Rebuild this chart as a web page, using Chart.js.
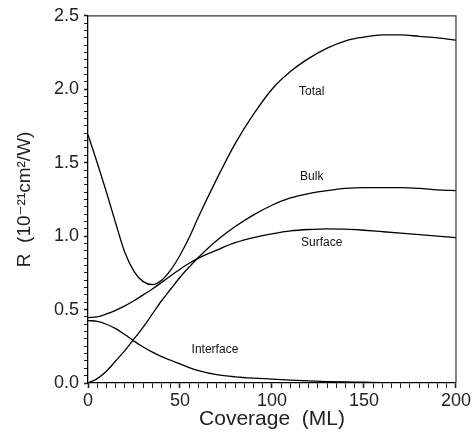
<!DOCTYPE html>
<html>
<head>
<meta charset="utf-8">
<script src="https://cdn.jsdelivr.net/npm/chart.js@4/dist/chart.umd.min.js"></script>
<style>
  html, body { margin: 0; padding: 0; background: #fff; }
  #wrap { width: 473px; height: 432px; position: relative; }
</style>
</head>
<body>
<div id="wrap"><canvas id="c" width="473" height="432"></canvas></div>
<script>
// ---- data ----
const coverage =   [0, 5, 10, 15, 20, 25, 30, 35, 40, 45, 50, 55, 60, 70, 80, 90, 100, 110, 120, 130, 140, 150, 160, 170, 180, 190, 200];
const totalR =     [1.69, 1.50, 1.30, 1.09, 0.89, 0.76, 0.69, 0.67, 0.70, 0.77, 0.87, 0.99, 1.13, 1.39, 1.63, 1.83, 2.00, 2.12, 2.21, 2.28, 2.33, 2.355, 2.37, 2.37, 2.36, 2.35, 2.335];
const bulkR =      [0.0, 0.03, 0.08, 0.15, 0.22, 0.30, 0.38, 0.47, 0.56, 0.64, 0.72, 0.79, 0.855, 0.97, 1.065, 1.145, 1.21, 1.26, 1.29, 1.31, 1.325, 1.33, 1.33, 1.33, 1.325, 1.315, 1.31];
const surfaceR =   [0.445, 0.45, 0.47, 0.495, 0.525, 0.56, 0.60, 0.64, 0.685, 0.73, 0.775, 0.815, 0.85, 0.905, 0.955, 0.99, 1.015, 1.035, 1.045, 1.05, 1.048, 1.04, 1.03, 1.02, 1.01, 1.0, 0.99];
const interfaceR = [0.425, 0.42, 0.40, 0.37, 0.33, 0.285, 0.245, 0.21, 0.18, 0.155, 0.13, 0.105, 0.085, 0.057, 0.042, 0.033, 0.027, 0.02, 0.014, 0.01, 0.007, 0.005, 0.003, 0.002, 0.001, 0.0005, 0];
const seriesNames = ["Total", "Bulk", "Surface", "Interface"];
const labelX = [121.6, 121.6, 127, 69];
const labelY = [1.98, 1.405, 0.955, 0.23];
const xTitle = "Coverage  (ML)";
const yTitle = "R  (10\u207B\u00B2\u00B9cm\u00B2/W)";

const allSeries = [totalR, bulkR, surfaceR, interfaceR];
const toPts = arr => coverage.map((x, i) => ({ x: x, y: arr[i] }));

const datasets = allSeries.map((arr, i) => ({
  label: seriesNames[i],
  data: toPts(arr),
  borderColor: '#000',
  borderWidth: 1.3,
  pointRadius: 0,
  fill: false,
  cubicInterpolationMode: 'monotone'
}));

const frameAndLabels = {
  id: 'frameAndLabels',
  afterDatasetsDraw(chart) {
    const { ctx, chartArea: a, scales } = chart;
    ctx.save();
    ctx.strokeStyle = '#333';
    ctx.lineWidth = 1.2;
    ctx.beginPath();
    ctx.moveTo(a.left, a.top);
    ctx.lineTo(a.right, a.top);
    ctx.lineTo(a.right, a.bottom);
    ctx.stroke();
    ctx.fillStyle = '#111';
    ctx.font = '12px "Liberation Sans", Arial, sans-serif';
    ctx.textAlign = 'center';
    ctx.textBaseline = 'middle';
    seriesNames.forEach((name, i) => {
      ctx.fillText(name, scales.x.getPixelForValue(labelX[i]), scales.y.getPixelForValue(labelY[i]));
    });
    ctx.restore();
  }
};

const tickFont = { family: '"Liberation Sans", Arial, sans-serif', size: 18 };

new Chart(document.getElementById('c'), {
  type: 'line',
  data: { datasets },
  plugins: [frameAndLabels],
  options: {
    responsive: false,
    animation: false,
    devicePixelRatio: 1,
    layout: { padding: { top: 14, right: 17, left: 0, bottom: 0 } },
    plugins: { legend: { display: false }, tooltip: { enabled: false } },
    scales: {
      x: {
        type: 'linear',
        min: 0, max: 200,
        afterFit(s) { s.height = 49; },
        border: { display: true, color: '#000', width: 1.3 },
        grid: {
          drawOnChartArea: false, drawTicks: true, tickLength: 5,
          tickColor: '#222',
          tickWidth: ctx => (ctx.tick && ctx.tick.value % 50 === 0) ? 1.6 : 1
        },
        ticks: {
          stepSize: 5, autoSkip: false, maxRotation: 0, padding: 2,
          color: '#222', font: tickFont,
          callback: v => (Math.abs(v % 50) < 1e-6 ? String(v) : '')
        },
        title: {
          display: true, text: xTitle, color: '#222',
          font: { family: '"Liberation Sans", Arial, sans-serif', size: 21 },
          padding: { top: 0, bottom: 0 }
        }
      },
      y: {
        type: 'linear',
        min: 0, max: 2.5,
        afterFit(s) { s.width = 88; },
        border: { display: true, color: '#000', width: 1.3 },
        grid: {
          drawOnChartArea: false, drawTicks: true, tickLength: 4,
          tickColor: '#222',
          tickWidth: ctx => {
            const v = ctx.tick ? ctx.tick.value * 2 : 0.5;
            return Math.abs(v - Math.round(v)) < 1e-6 ? 1.6 : 1;
          }
        },
        ticks: {
          stepSize: 0.05, autoSkip: false, padding: 5,
          color: '#222', font: tickFont,
          callback: v => {
            const d = v * 2;
            return Math.abs(d - Math.round(d)) < 1e-6 ? (Math.round(d) / 2).toFixed(1) : '';
          }
        },
        title: {
          display: true, text: yTitle, color: '#222',
          font: { family: '"Liberation Sans", "DejaVu Sans", Arial, sans-serif', size: 19 },
          padding: { top: 13, bottom: 0 }
        }
      }
    }
  }
});
</script>
</body>
</html>
